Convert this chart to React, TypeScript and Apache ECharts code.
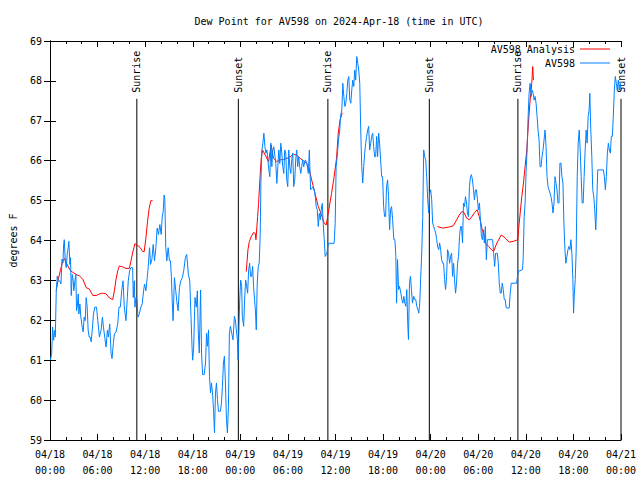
import React, { useEffect, useRef } from "react";
import * as echarts from "echarts";

const TITLE = "Dew Point for AV598 on 2024-Apr-18 (time in UTC)";
const FONT = '"DejaVu Sans Mono", "Liberation Mono", monospace';

const xDateLabels = ["04/18", "04/18", "04/18", "04/18", "04/19", "04/19", "04/19", "04/19", "04/20", "04/20", "04/20", "04/20", "04/21"];
const xTimeLabels = ["00:00", "06:00", "12:00", "18:00", "00:00", "06:00", "12:00", "18:00", "00:00", "06:00", "12:00", "18:00", "00:00"];

// hours since 04/18 00:00 UTC
const sunTimes = [10.95, 23.75, 35.04, 47.83, 59.0, 72.0];
const sunLabels = ["Sunrise", "Sunset", "Sunrise", "Sunset", "Sunrise", "Sunset"];

// AV598 Analysis (red), three segments
const redTimes1 = [0.79, 1.0, 1.34, 1.63, 1.84, 2.05, 2.26, 2.59, 2.89, 3.31, 3.72, 4.14, 4.56, 4.98, 5.4, 5.82, 6.23, 6.65, 7.07, 7.49, 7.91, 8.12, 8.33, 8.54, 8.74, 9.16, 9.58, 10.0, 10.21, 10.42, 10.71, 11.05, 11.38, 11.67, 11.88, 12.09, 12.3, 12.51, 12.72, 12.93];
const redValues1 = [62.74, 62.99, 63.28, 63.49, 63.55, 63.44, 63.36, 63.24, 63.2, 63.15, 63.11, 63.03, 62.82, 62.78, 62.62, 62.62, 62.66, 62.68, 62.66, 62.56, 62.52, 62.74, 63.03, 63.24, 63.36, 63.34, 63.3, 63.3, 63.49, 63.69, 63.92, 63.88, 63.82, 63.73, 63.72, 64.06, 64.48, 64.81, 65.0, 65.0];
const redTimes2 = [24.75, 24.96, 25.13, 25.38, 25.67, 25.88, 25.97, 26.18, 26.3, 26.51, 26.64, 26.8, 27.14, 27.56, 27.89, 28.18, 28.6, 29.02, 29.44, 29.86, 30.27, 30.69, 31.11, 31.53, 31.95, 32.36, 32.66, 32.99, 33.41, 33.83, 34.24, 34.58, 34.83, 35.08, 35.5, 35.83, 36.13, 36.35, 36.55, 36.85];
const redValues2 = [63.22, 63.77, 63.97, 64.1, 64.2, 64.18, 64.02, 64.6, 64.93, 65.68, 66.06, 66.27, 66.14, 65.98, 66.39, 66.06, 65.98, 66.02, 66.03, 66.06, 66.1, 66.16, 66.14, 66.06, 66.0, 65.93, 65.81, 65.52, 65.18, 64.85, 64.64, 64.43, 64.39, 64.68, 65.18, 65.6, 66.06, 66.69, 67.0, 67.2];
const redTimes3 = [48.85, 49.52, 50.36, 50.86, 51.28, 51.61, 51.95, 52.24, 52.53, 52.87, 53.2, 53.54, 53.87, 54.12, 54.33, 54.54, 54.79, 54.9, 55.31, 55.65, 55.94, 56.36, 56.9, 57.4, 57.91, 58.45, 58.99, 59.08, 59.29, 59.49, 59.7, 59.91, 60.12, 60.33, 60.54, 60.75, 60.87, 60.96];
const redValues3 = [64.35, 64.31, 64.34, 64.37, 64.52, 64.64, 64.73, 64.69, 64.56, 64.52, 64.6, 64.7, 64.77, 64.6, 64.44, 64.23, 64.1, 63.94, 63.85, 63.77, 63.73, 63.94, 64.14, 64.06, 63.96, 63.98, 64.02, 64.27, 64.69, 65.1, 65.44, 65.86, 66.27, 66.94, 67.52, 67.94, 68.36, 68.02];

// AV598 observations (blue)
const blueTimesA = [0.05, 0.21, 0.33, 0.46, 0.59, 0.67, 0.79, 0.92, 1.05, 1.21, 1.38, 1.51, 1.63, 1.72, 1.8, 1.92, 2.05, 2.18, 2.26, 2.38, 2.51, 2.59, 2.68, 2.8, 2.93, 3.01, 3.14, 3.26, 3.35, 3.47, 3.56, 3.64, 3.77, 3.89, 4.06, 4.18, 4.31, 4.44, 4.56, 4.69, 4.81, 4.94, 5.06, 5.19, 5.36, 5.48, 5.65, 5.86, 6.03, 6.23, 6.44, 6.61, 6.74, 6.9, 7.07, 7.24, 7.36, 7.53, 7.7, 7.82, 7.99, 8.12, 8.33, 8.54, 8.7, 8.87, 9.04, 9.21, 9.37, 9.58, 9.75, 9.87, 10.04, 10.21, 10.42, 10.5, 10.63, 10.71, 10.84, 10.96, 11.09, 11.26, 11.46, 11.63, 11.8, 11.92, 12.09, 12.26, 12.38, 12.55, 12.68, 12.85, 13.01, 13.18, 13.35, 13.51, 13.68, 13.85, 14.02, 14.14, 14.27, 14.39, 14.48, 14.6, 14.73, 14.9, 15.06, 15.19, 15.31, 15.44, 15.52, 15.69, 15.86, 15.98, 16.15, 16.32, 16.49, 16.69, 16.86, 17.07, 17.24, 17.45, 17.62, 17.78, 17.91, 17.99, 18.12, 18.28, 18.45, 18.58];
const blueValuesA = [61.0, 61.17, 61.83, 61.5, 61.75, 61.58, 62.74, 63.11, 62.99, 62.99, 62.91, 63.53, 63.44, 63.9, 64.02, 63.49, 63.32, 63.69, 63.77, 63.98, 63.4, 63.57, 62.62, 63.15, 62.99, 62.74, 62.99, 63.15, 62.24, 62.41, 62.66, 62.16, 62.41, 62.08, 61.83, 61.71, 62.08, 61.99, 62.57, 62.33, 61.75, 61.58, 61.58, 61.46, 61.83, 62.16, 62.33, 62.33, 61.99, 61.58, 61.75, 62.08, 61.83, 61.58, 61.33, 61.75, 61.58, 61.91, 61.17, 61.04, 61.42, 61.66, 61.71, 61.91, 62.33, 62.33, 62.74, 62.99, 62.33, 61.99, 62.57, 62.99, 63.24, 63.32, 63.32, 62.57, 62.99, 62.33, 62.57, 62.53, 62.08, 62.16, 62.33, 62.41, 62.74, 62.91, 62.74, 63.07, 63.32, 63.82, 63.4, 63.53, 63.9, 63.49, 63.82, 64.31, 64.15, 64.4, 64.15, 64.56, 64.73, 65.14, 65.02, 63.82, 63.49, 63.82, 63.49, 63.49, 63.07, 62.33, 61.99, 63.07, 62.74, 62.49, 62.24, 62.82, 62.99, 63.07, 63.24, 63.57, 63.65, 63.15, 62.99, 62.08, 61.33, 61.0, 61.33, 62.57, 62.33, 62.74];
const blueTimesB = [18.69, 18.82, 18.99, 19.11, 19.24, 19.44, 19.61, 19.74, 19.86, 19.99, 20.11, 20.24, 20.36, 20.49, 20.62, 20.74, 20.87, 20.99, 21.12, 21.24, 21.49, 21.62, 21.74, 21.87, 21.99, 22.12, 22.25, 22.37, 22.5, 22.62, 22.75, 22.91, 23.08, 23.25, 23.37, 23.5, 23.63, 23.71, 23.79, 23.92, 24.04, 24.17, 24.25, 24.42, 24.54, 24.67, 24.8, 24.92, 25.05, 25.17, 25.3, 25.42, 25.55, 25.67, 25.8, 25.92, 26.01, 26.13, 26.26, 26.38, 26.51, 26.59, 26.72, 26.84, 26.97, 27.1, 27.22, 27.35, 27.47, 27.6, 27.72, 27.85, 27.97, 28.1, 28.22, 28.35, 28.47, 28.6, 28.73, 28.85, 28.98, 29.1, 29.23, 29.35, 29.48, 29.6, 29.73, 29.85, 29.98, 30.11, 30.23, 30.36, 30.48, 30.61, 30.73, 30.86, 30.98, 31.11, 31.23, 31.36, 31.49, 31.61, 31.74, 31.86, 31.99, 32.2, 32.4, 32.57, 32.7, 32.86, 33.2, 33.32, 33.45, 33.57, 33.7, 33.83, 33.95, 34.08, 34.2, 34.33, 34.45, 34.58, 34.7, 34.91, 35.04, 35.16, 35.83, 35.96, 36.08, 36.21, 36.38, 36.54];
const blueValuesB = [61.76, 61.18, 62.76, 61.18, 60.64, 60.64, 60.93, 61.68, 61.35, 61.76, 60.59, 60.18, 60.43, 60.18, 59.76, 59.18, 60.18, 60.43, 60.01, 59.72, 59.72, 59.93, 60.34, 60.93, 61.1, 60.43, 59.51, 59.18, 59.84, 61.68, 61.85, 61.68, 61.51, 62.1, 62.01, 61.76, 61.51, 61.01, 61.51, 62.51, 63.01, 62.85, 62.1, 61.85, 62.51, 63.01, 62.85, 62.68, 63.27, 63.43, 63.1, 63.1, 63.35, 62.85, 62.51, 62.18, 61.76, 62.93, 63.35, 63.43, 64.18, 65.43, 66.27, 66.44, 66.69, 66.35, 66.19, 66.27, 66.02, 65.77, 65.6, 66.44, 65.85, 66.27, 66.35, 66.14, 65.93, 65.43, 65.85, 66.27, 65.93, 66.44, 66.19, 65.85, 65.68, 66.27, 66.19, 65.52, 65.35, 66.27, 65.85, 65.68, 66.02, 66.19, 65.35, 65.52, 66.02, 66.27, 65.85, 66.1, 65.85, 65.68, 65.85, 66.02, 65.85, 66.02, 65.93, 65.68, 66.27, 65.27, 65.35, 65.27, 65.1, 64.85, 64.77, 64.35, 64.68, 64.52, 64.77, 64.93, 64.43, 64.02, 63.6, 63.68, 63.85, 63.93, 63.93, 64.43, 65.85, 66.1, 66.52, 66.77];
const blueTimesC = [36.63, 36.8, 36.92, 37.05, 37.18, 37.3, 37.43, 37.55, 37.68, 37.8, 37.93, 38.05, 38.18, 38.3, 38.43, 38.55, 38.68, 38.81, 38.93, 39.06, 39.18, 39.31, 39.43, 39.56, 39.68, 39.81, 39.93, 40.06, 40.18, 40.31, 40.44, 40.56, 40.69, 40.81, 40.94, 41.06, 41.19, 41.31, 41.44, 41.56, 41.69, 41.82, 41.94, 42.07, 42.19, 42.32, 42.44, 42.57, 42.69, 42.82, 42.94, 43.07, 43.2, 43.36, 43.49, 43.61, 43.7, 43.82, 43.95, 44.07, 44.24, 44.37, 44.49, 44.62, 44.74, 44.87, 44.99, 45.12, 45.2, 45.33, 45.45, 45.58, 45.7, 45.87, 46.0, 46.12, 46.25, 46.37, 46.5, 46.62, 46.75, 46.87, 47.0, 47.12, 47.25, 47.38, 47.5, 47.63, 47.75, 47.88, 48.0, 48.13, 48.25, 48.38, 48.5, 48.63, 48.76, 48.88, 49.01, 49.13, 49.26, 49.38, 49.51, 49.63, 49.76, 49.88, 50.01, 50.13, 50.26, 50.39, 50.51, 50.64, 50.76, 50.89, 51.01, 51.14, 51.26, 51.39, 51.51, 51.64, 51.77, 51.89, 52.02, 52.14, 52.27, 52.39, 52.52, 52.64, 52.77, 52.89, 53.02, 53.14, 53.27, 53.4, 53.52, 53.65, 53.77, 53.9, 54.02, 54.15, 54.27, 54.4, 54.52, 54.65, 54.77, 54.9];
const blueValuesC = [67.11, 67.27, 67.94, 67.61, 67.36, 67.44, 67.69, 68.02, 68.11, 67.52, 67.44, 67.77, 68.02, 67.86, 68.27, 68.02, 68.61, 68.44, 68.27, 67.94, 66.77, 65.85, 65.44, 65.85, 66.19, 66.44, 66.61, 66.77, 66.86, 66.27, 66.44, 66.61, 66.69, 66.36, 66.1, 66.1, 66.61, 66.1, 66.69, 66.44, 66.02, 65.6, 65.6, 64.85, 64.6, 64.6, 65.35, 65.52, 65.1, 64.27, 64.77, 64.85, 64.52, 64.02, 64.02, 63.6, 62.43, 63.52, 62.77, 62.85, 62.68, 62.52, 62.43, 62.6, 62.43, 62.35, 62.77, 61.85, 61.52, 62.93, 63.1, 62.77, 62.43, 62.6, 62.52, 62.52, 62.35, 62.27, 62.18, 62.43, 63.1, 63.68, 64.6, 66.27, 66.1, 66.02, 65.6, 65.02, 64.69, 65.19, 65.27, 65.02, 64.44, 64.35, 64.27, 64.19, 64.02, 63.85, 63.77, 63.94, 63.77, 63.52, 63.43, 63.43, 63.02, 62.77, 63.1, 63.77, 63.68, 63.43, 63.6, 63.68, 63.1, 63.43, 63.02, 62.68, 62.93, 63.43, 63.6, 64.1, 64.35, 64.35, 63.94, 64.94, 64.85, 65.1, 64.94, 64.69, 64.6, 65.35, 65.6, 65.65, 65.52, 65.27, 65.02, 65.27, 65.27, 65.02, 64.77, 64.94, 64.52, 64.1, 64.02, 64.27, 63.94, 64.35];
const blueTimesD = [55.02, 55.15, 55.82, 55.94, 56.07, 56.19, 56.4, 56.53, 56.65, 56.78, 56.9, 57.03, 57.15, 57.28, 57.4, 57.53, 57.91, 58.03, 58.16, 58.83, 58.95, 59.08, 59.58, 59.66, 59.79, 59.91, 60.04, 60.16, 60.29, 60.41, 60.54, 60.67, 60.79, 60.92, 61.04, 61.17, 61.29, 61.42, 61.54, 61.67, 61.79, 61.92, 62.04, 62.17, 62.3, 62.42, 62.55, 62.67, 62.8, 62.92, 63.05, 63.17, 63.3, 63.42, 63.55, 63.68, 63.8, 63.93, 64.05, 64.18, 64.3, 64.43, 64.55, 64.68, 64.8, 64.93, 65.05, 65.18, 65.31, 65.43, 65.56, 65.68, 65.81, 65.93, 66.02, 66.1, 66.23, 66.35, 66.48, 66.6, 66.73, 66.85, 66.98, 67.1, 67.23, 67.35, 67.48, 67.61, 67.73, 67.86, 67.98, 68.07, 68.19, 68.32, 68.44, 68.57, 68.69, 68.82, 68.94, 69.07, 69.78, 69.9, 70.03, 70.15, 70.28, 70.41, 70.53, 70.66, 70.78, 70.91, 71.03, 71.16, 71.28, 71.41, 71.53, 71.66, 71.79, 71.91, 72.0];
const blueValuesD = [63.52, 64.02, 64.02, 63.68, 63.35, 63.68, 63.68, 63.43, 62.93, 62.68, 62.68, 62.93, 62.77, 62.52, 62.52, 62.31, 62.31, 62.68, 62.93, 62.93, 63.1, 63.23, 63.27, 63.52, 64.6, 64.94, 65.77, 66.27, 67.11, 67.69, 67.94, 67.61, 67.77, 67.69, 67.52, 67.61, 67.44, 67.11, 66.77, 66.52, 65.85, 65.85, 66.1, 66.27, 66.52, 66.77, 66.36, 65.6, 65.35, 65.27, 65.19, 65.1, 64.94, 64.69, 64.94, 65.6, 65.44, 65.27, 64.94, 64.94, 65.94, 65.94, 65.6, 65.44, 64.44, 63.77, 63.43, 63.6, 63.77, 63.85, 63.77, 64.02, 63.68, 63.02, 62.18, 62.6, 63.02, 63.77, 65.6, 66.44, 66.77, 66.27, 65.6, 64.94, 64.94, 65.6, 66.27, 66.77, 66.44, 67.11, 67.27, 67.69, 66.77, 66.1, 65.27, 65.1, 64.77, 64.27, 64.94, 65.77, 65.77, 65.6, 65.27, 65.6, 66.19, 66.44, 66.27, 66.19, 66.61, 66.61, 67.11, 67.77, 68.11, 67.94, 67.77, 68.02, 67.77, 67.94, 67.77];

const SUN_LINE_TOP = 67.55;

const pairs = (ts: number[], vs: number[]) => ts.map((t, i) => [t, vs[i]]);

export default function App() {
  const ref = useRef<HTMLDivElement>(null);
  useEffect(() => {
    if (!ref.current) return;
    const chart = echarts.init(ref.current, null, { renderer: "svg" });
    const blue = "#0080ff";
    const red = "#ff0000";
    const axisCommon = {
      type: "value" as const,
      axisLine: { show: true, lineStyle: { color: "#000", width: 1 } },
      axisTick: { show: true, inside: true, length: 6, lineStyle: { color: "#000" } },
      minorTick: { show: true, splitNumber: 3, length: 3, lineStyle: { color: "#000" } },
      splitLine: { show: false },
    };
    const legendCommon = {
      right: 30,
      align: "right",
      icon: "rect",
      itemWidth: 30,
      itemHeight: 1,
      itemGap: 0,
      padding: 0,
      selectedMode: false,
      textStyle: { fontFamily: FONT, fontSize: 10, color: "#000" },
    };
    const redSeries = [
      pairs(redTimes1, redValues1),
      pairs(redTimes2, redValues2),
      pairs(redTimes3, redValues3),
    ].map((d) => ({
      name: "AV598 Analysis",
      type: "line",
      data: d,
      showSymbol: false,
      symbol: "none",
      lineStyle: { color: red, width: 1 },
      itemStyle: { color: red },
      xAxisIndex: 0,
      yAxisIndex: 0,
    }));
    const blueData = [
      ...pairs(blueTimesA, blueValuesA),
      ...pairs(blueTimesB, blueValuesB),
      ...pairs(blueTimesC, blueValuesC),
      ...pairs(blueTimesD, blueValuesD),
    ];
    chart.setOption({
      animation: false,
      backgroundColor: "#fff",
      textStyle: { fontFamily: FONT },
      title: {
        text: TITLE,
        left: 334,
        textAlign: "center",
        top: 11,
        textStyle: { fontFamily: FONT, fontSize: 10, fontWeight: "normal", color: "#000" },
      },
      legend: [
        { ...legendCommon, data: ["AV598 Analysis"], top: 44 },
        { ...legendCommon, data: ["AV598"], top: 58 },
      ],
      grid: { left: 47, right: 19, top: 41, bottom: 40, containLabel: false },
      xAxis: [
        {
          ...axisCommon,
          position: "bottom",
          min: 0,
          max: 72,
          interval: 6,
          axisLabel: {
            show: true,
            margin: 6,
            color: "#000",
            fontFamily: FONT,
            fontSize: 10,
            lineHeight: 16,
            formatter: (v: number) => {
              const i = Math.round(v / 6);
              return xDateLabels[i] + "\n" + xTimeLabels[i];
            },
          },
        },
        {
          ...axisCommon,
          position: "top",
          min: 0,
          max: 72,
          interval: 6,
          axisLabel: { show: false },
        },
      ],
      yAxis: [
        {
          ...axisCommon,
          position: "left",
          min: 59,
          max: 69,
          interval: 1,
          minorTick: { show: false },
          name: "degrees F",
          nameLocation: "middle",
          nameGap: 32,
          nameRotate: 90,
          nameTextStyle: { fontFamily: FONT, fontSize: 10, color: "#000" },
          axisLabel: { show: true, margin: 8, color: "#000", fontFamily: FONT, fontSize: 10 },
        },
        {
          ...axisCommon,
          position: "right",
          min: 59,
          max: 69,
          interval: 1,
          minorTick: { show: false },
          axisLabel: { show: false },
        },
      ],
      series: [
        ...redSeries,
        {
          name: "AV598",
          type: "line",
          data: blueData,
          showSymbol: false,
          symbol: "none",
          lineStyle: { color: blue, width: 1 },
          itemStyle: { color: blue },
          xAxisIndex: 0,
          yAxisIndex: 0,
        },
        {
          type: "custom",
          name: "sun",
          clip: false,
          xAxisIndex: 0,
          yAxisIndex: 0,
          data: sunTimes.map((t) => [t, SUN_LINE_TOP]),
          renderItem: (params: any, api: any) => {
            const t = api.value(0);
            const top = api.coord([t, api.value(1)]);
            const bot = api.coord([t, 59]);
            return {
              type: "group",
              children: [
                {
                  type: "line",
                  shape: { x1: top[0], y1: top[1], x2: bot[0], y2: bot[1] },
                  style: { stroke: "#000", lineWidth: 1 },
                },
                {
                  type: "text",
                  x: top[0],
                  y: top[1] - 6,
                  rotation: Math.PI / 2,
                  style: {
                    text: sunLabels[params.dataIndex],
                    font: '10px "DejaVu Sans Mono", monospace',
                    fill: "#000",
                    align: "left",
                    verticalAlign: "middle",
                  },
                },
              ],
            };
          },
        },
      ],
    });
    return () => chart.dispose();
  }, []);
  return (
    <div
      ref={ref}
      style={{ position: "fixed", left: 0, top: 0, width: 640, height: 480, background: "#fff" }}
    />
  );
}
